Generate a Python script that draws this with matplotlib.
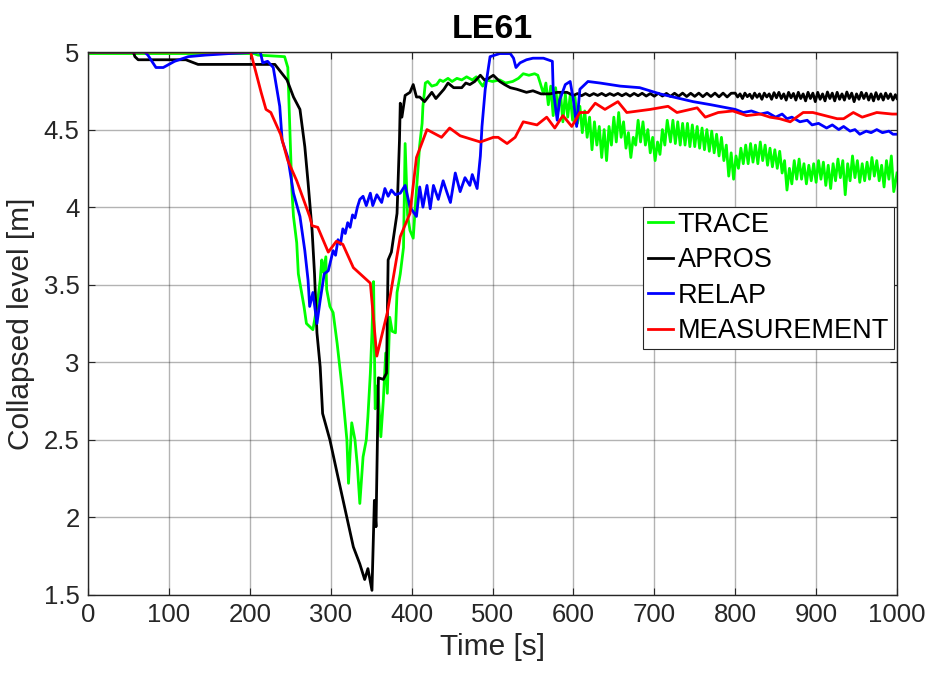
import matplotlib
matplotlib.use("Agg")
import matplotlib.pyplot as plt

plt.rcParams['font.family'] = ['Liberation Sans', 'DejaVu Sans']

# ---------------- data ----------------
trace_t = [0, 205, 210, 243, 247, 250, 252, 254, 258, 260, 264, 267, 270, 274, 278, 283, 287, 289,
           291, 294, 295, 299, 303, 308, 314, 320, 322, 326, 330, 333, 336, 340, 344, 346, 349, 351,
           353, 355, 358, 362, 365, 368, 370, 373, 376, 380, 382, 386, 390, 392, 395, 398, 402, 406,
           410, 413, 414, 417, 420, 425, 431, 435, 439, 445, 450, 456, 462, 468, 475, 480, 485, 488,
           492, 500, 509, 516, 525, 532, 538, 545, 552, 556, 559, 563, 566, 569, 572, 575, 578, 581,
           584, 587, 590, 593, 596, 599, 602, 605, 608, 611, 614, 617, 620, 623, 626, 629, 632, 635,
           638, 641, 644, 647, 650, 653, 656, 659, 662, 665, 668, 671, 674, 677, 680, 683, 686, 689,
           692, 695, 698, 701, 704, 707, 710, 713, 716, 720, 723, 726, 729, 732, 735, 738, 741, 744,
           747, 750, 753, 756, 759, 762, 765, 768, 771, 774, 777, 780, 783, 786, 789, 792, 795, 798,
           801, 804, 807, 810, 813, 816, 819, 822, 825, 828, 831, 834, 837, 840, 843, 846, 849, 852,
           855, 858, 861, 864, 867, 870, 873, 876, 879, 882, 885, 888, 891, 894, 897, 900, 903, 906,
           909, 912, 915, 918, 921, 924, 927, 930, 933, 936, 939, 942, 945, 948, 951, 954, 957, 960,
           963, 966, 969, 972, 975, 978, 981, 984, 987, 990, 993, 996, 1000]
trace_v = [4.99, 4.99, 4.98, 4.97, 4.90, 4.43, 4.11, 3.94, 3.77, 3.57, 3.45, 3.36, 3.25, 3.23, 3.21,
           3.36, 3.53, 3.66, 3.58, 3.68, 3.47, 3.36, 3.32, 3.12, 2.84, 2.50, 2.22, 2.61, 2.50, 2.33,
           2.09, 2.39, 2.50, 2.65, 2.93, 3.19, 3.52, 2.70, 2.85, 2.52, 2.75, 3.06, 2.80, 3.29, 3.20,
           3.19, 3.45, 3.57, 3.74, 4.41, 3.95, 3.85, 3.80, 4.11, 4.40, 4.54, 4.65, 4.80, 4.81, 4.78,
           4.79, 4.82, 4.81, 4.83, 4.81, 4.83, 4.82, 4.84, 4.82, 4.84, 4.80, 4.78, 4.82, 4.81, 4.82,
           4.80, 4.81, 4.83, 4.86, 4.85, 4.86, 4.85, 4.80, 4.73, 4.80, 4.66, 4.78, 4.59, 4.77, 4.62,
           4.74, 4.55, 4.73, 4.58, 4.72, 4.56, 4.71, 4.54, 4.65, 4.48, 4.62, 4.45, 4.58, 4.37, 4.55,
           4.40, 4.52, 4.32, 4.50, 4.30, 4.52, 4.40, 4.58, 4.42, 4.61, 4.45, 4.55, 4.38, 4.48, 4.32,
           4.45, 4.40, 4.56, 4.42, 4.55, 4.40, 4.50, 4.35, 4.45, 4.30, 4.42, 4.34, 4.50, 4.40, 4.56,
           4.42, 4.56, 4.41, 4.55, 4.40, 4.54, 4.40, 4.54, 4.39, 4.53, 4.39, 4.52, 4.38, 4.51, 4.37,
           4.50, 4.36, 4.49, 4.35, 4.47, 4.33, 4.45, 4.30, 4.40, 4.20, 4.35, 4.18, 4.33, 4.25, 4.38,
           4.28, 4.40, 4.28, 4.41, 4.29, 4.40, 4.28, 4.42, 4.30, 4.40, 4.27, 4.38, 4.26, 4.37, 4.25,
           4.36, 4.22, 4.30, 4.11, 4.25, 4.15, 4.30, 4.18, 4.31, 4.18, 4.28, 4.15, 4.27, 4.17, 4.28,
           4.16, 4.30, 4.18, 4.29, 4.14, 4.27, 4.12, 4.28, 4.17, 4.31, 4.19, 4.30, 4.08, 4.28, 4.17,
           4.33, 4.19, 4.30, 4.16, 4.28, 4.17, 4.29, 4.18, 4.32, 4.20, 4.30, 4.17, 4.27, 4.13, 4.30,
           4.18, 4.33, 4.10, 4.22]

apros_t = [0, 56, 58, 62, 121, 136, 226, 231, 240, 246, 254, 262, 268, 272, 277, 280, 283, 287, 290,
           299, 309, 320, 328, 336, 342, 346, 351, 354, 356, 359, 365, 369, 371, 375, 382, 385, 386,
           388, 392, 398, 402, 406, 410, 416, 425, 430, 435, 440, 445, 452, 462, 467, 472, 478, 485,
           490, 495, 501, 509, 515, 522, 530, 542, 550, 560, 571, 580, 592, 600,
           605, 610, 615, 620, 625, 630, 635, 640, 645, 650, 655, 660, 665, 670, 675, 680, 685, 690,
           695, 700, 705, 710, 715, 720, 725, 730, 735, 740, 745, 750, 755, 760, 765, 770, 775, 780,
           785, 790, 795,
           800, 803, 806, 809, 812, 815, 818, 821, 824, 827, 830, 833, 836, 839, 842, 845, 848, 851,
           854, 857, 860, 863, 866, 869, 872, 875, 878, 881, 884, 887, 890, 893, 896, 899, 902, 905,
           908, 911, 914, 917, 920, 923, 926, 929, 932, 935, 938, 941, 944, 947, 950, 953, 956, 959,
           962, 965, 968, 971, 974, 977, 980, 983, 986, 989, 992, 995, 998, 1000]
apros_v = [5.0, 5.0, 4.97, 4.95, 4.95, 4.92, 4.92, 4.92, 4.86, 4.82, 4.71, 4.63, 4.39, 4.16, 3.85,
           3.57, 3.19, 2.97, 2.67, 2.50, 2.26, 2.00, 1.81, 1.70, 1.60, 1.67, 1.53, 2.11, 1.94, 2.90,
           2.89, 2.93, 3.66, 3.71, 3.96, 4.43, 4.67, 4.58, 4.72, 4.74, 4.79, 4.71, 4.71, 4.68, 4.74,
           4.70, 4.73, 4.76, 4.80, 4.77, 4.77, 4.80, 4.79, 4.81, 4.85, 4.82, 4.83, 4.85, 4.81, 4.79,
           4.77, 4.76, 4.74, 4.75, 4.73, 4.73, 4.74, 4.74, 4.72,
           4.732, 4.718, 4.732, 4.718, 4.732, 4.72, 4.733, 4.718, 4.732, 4.72, 4.733, 4.718, 4.732,
           4.716, 4.733, 4.718, 4.734, 4.716, 4.732, 4.715, 4.734, 4.716, 4.733, 4.714, 4.734, 4.715,
           4.735, 4.713, 4.734, 4.714, 4.735, 4.712, 4.734, 4.713, 4.735, 4.711, 4.735, 4.71, 4.734,
           4.735, 4.71, 4.73, 4.70, 4.735, 4.712, 4.728, 4.70, 4.735, 4.708, 4.73, 4.695, 4.735,
           4.71, 4.73, 4.695, 4.738, 4.705, 4.74, 4.70, 4.73, 4.69, 4.74, 4.705, 4.733, 4.69, 4.74,
           4.70, 4.73, 4.685, 4.74, 4.70, 4.735, 4.68, 4.74, 4.695, 4.73, 4.685, 4.742, 4.70,
           4.735, 4.685, 4.74, 4.695, 4.73, 4.69, 4.742, 4.70, 4.735, 4.68, 4.73, 4.695, 4.74,
           4.70, 4.735, 4.69, 4.73, 4.685, 4.738, 4.695, 4.73, 4.69, 4.735, 4.70, 4.73, 4.69,
           4.725, 4.70]

relap_t = [0, 70, 74, 84, 93, 107, 124, 145, 175, 213, 216, 222, 229, 237, 240, 247, 254, 262, 268,
           272, 274, 278, 283, 287, 292, 297, 303, 306, 309, 312, 315, 318, 321, 324, 327, 330, 333,
           336, 340, 344, 349, 352, 357, 363, 367, 371, 375, 380, 386, 392, 398, 406, 410, 414, 419,
           423, 427, 433, 439, 444, 448, 454, 460, 466, 472, 475, 481, 485, 487, 491, 497, 509, 522,
           526, 529, 534, 542, 550, 563, 574, 575, 580, 583, 590, 596, 600, 604, 608, 618, 633, 658,
           682, 707, 748, 770, 790, 800, 810, 820, 831, 840, 850, 858, 864, 870, 880, 889, 895, 903,
           913, 920, 928, 934, 942, 948, 954, 962, 968, 975, 982, 990, 995, 1000]
relap_v = [5.0, 5.0, 4.98, 4.90, 4.90, 4.94, 4.97, 4.98, 4.99, 5.0, 4.93, 4.94, 4.90, 4.65, 4.43,
           4.32, 4.09, 3.94, 3.72, 3.53, 3.36, 3.45, 3.25, 3.40, 3.57, 3.59, 3.72, 3.69, 3.79, 3.76,
           3.86, 3.83, 3.90, 3.87, 3.95, 3.93, 4.00, 4.05, 4.07, 4.01, 4.09, 4.01, 4.08, 4.03, 4.12,
           4.07, 4.11, 4.08, 4.09, 4.14, 4.00, 3.94, 4.13, 4.00, 4.14, 3.99, 4.14, 4.05, 4.17, 4.09,
           4.03, 4.22, 4.10, 4.19, 4.14, 4.21, 4.12, 4.33, 4.52, 4.76, 4.97, 4.99, 4.99, 4.96, 4.90,
           4.93, 4.95, 4.96, 4.96, 4.94, 4.76, 4.56, 4.69, 4.79, 4.81, 4.69, 4.52, 4.76, 4.81, 4.80,
           4.78, 4.77, 4.73, 4.68, 4.66, 4.64, 4.63, 4.61, 4.62, 4.60, 4.61, 4.58, 4.60, 4.57, 4.58,
           4.55, 4.56, 4.53, 4.54, 4.51, 4.53, 4.50, 4.52, 4.49, 4.50, 4.47, 4.49, 4.48, 4.50, 4.48,
           4.49, 4.47, 4.47]

meas_t = [0, 201, 214, 220, 226, 238, 247, 258, 274, 277, 284, 297, 307, 315, 328, 349, 357, 370,
          386, 398, 406, 419, 437, 447, 460, 485, 501, 507, 518, 528, 538, 555, 567, 577, 587, 598,
          608, 618, 627, 639, 655, 666, 695, 717, 728, 753, 763, 779, 797, 814, 831, 843, 855, 868,
          884, 896, 911, 926, 934, 946, 957, 975, 994, 1000]
meas_v = [5.0, 5.0, 4.74, 4.63, 4.61, 4.47, 4.30, 4.17, 3.94, 3.88, 3.87, 3.71, 3.78, 3.76, 3.61,
          3.51, 3.04, 3.32, 3.81, 3.96, 4.32, 4.50, 4.45, 4.51, 4.46, 4.42, 4.45, 4.45, 4.41, 4.45,
          4.55, 4.53, 4.58, 4.51, 4.59, 4.52, 4.61, 4.61, 4.67, 4.63, 4.68, 4.61, 4.63, 4.65, 4.61,
          4.64, 4.58, 4.61, 4.62, 4.59, 4.60, 4.58, 4.57, 4.55, 4.61, 4.61, 4.59, 4.57, 4.57, 4.61,
          4.58, 4.61, 4.60, 4.60]

series_names = ["TRACE", "APROS", "RELAP", "MEASUREMENT"]
series_colors = ["#00ff00", "#000000", "#0000ff", "#ff0000"]

x_ticks = [0, 100, 200, 300, 400, 500, 600, 700, 800, 900, 1000]
y_ticks = [1.5, 2, 2.5, 3, 3.5, 4, 4.5, 5]
y_tick_labels = ["1.5", "2", "2.5", "3", "3.5", "4", "4.5", "5"]

# ---------------- figure ----------------
fig = plt.figure(figsize=(9.31, 6.73), dpi=100)
ax = fig.add_axes([88 / 931, 1 - 595 / 673, (897 - 88) / 931, (595 - 52) / 673])

data = [(trace_t, trace_v), (apros_t, apros_v), (relap_t, relap_v), (meas_t, meas_v)]
for (t, v), name, col in zip(data, series_names, series_colors):
    ax.plot(t, v, color=col, lw=2.0, label=name, solid_joinstyle='round')

ax.set_xlim(0, 1000)
ax.set_ylim(1.5, 5)
ax.set_xticks(x_ticks)
ax.set_yticks(y_ticks)
ax.set_yticklabels(y_tick_labels)
ax.tick_params(direction='in', length=5, width=0.8, colors='#262626', labelsize=18.5,
               top=True, right=True, pad=6)
ax.grid(True, color='#262626', alpha=0.35, lw=1.0)
ax.set_axisbelow(True)
for s in ax.spines.values():
    s.set_color('#262626')
    s.set_linewidth(1.0)

ax.set_xlabel("Time [s]", fontsize=21.5, color='#262626', labelpad=4)
ax.set_ylabel("Collapsed level [m]", fontsize=21.5, color='#262626', labelpad=6)
ax.set_title("LE61", fontsize=24.5, fontweight='bold', pad=10)

leg = ax.legend(loc='upper right', bbox_to_anchor=(0.996, 0.7145), fontsize=19.5,
                frameon=True, fancybox=False, framealpha=1, edgecolor='#262626',
                handlelength=0.95, handletextpad=0.15, labelspacing=0.35, borderpad=0.18,
                borderaxespad=0.0)
leg.get_frame().set_linewidth(0.8)

fig.savefig("out.png", dpi=100)
